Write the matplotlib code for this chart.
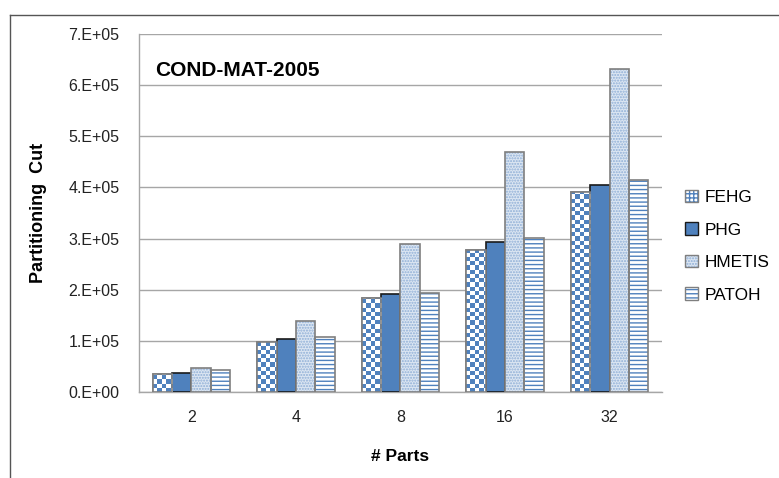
import numpy as np
import matplotlib
matplotlib.use("Agg")
import matplotlib.pyplot as plt
from matplotlib.colors import ListedColormap
from matplotlib.patches import Patch
from matplotlib.lines import Line2D

plt.rcParams['font.family'] = ['Liberation Sans', 'DejaVu Sans']
plt.rcParams['hatch.linewidth'] = 1.0

# data
parts = ['2', '4', '8', '16', '32']
fehg = [35000, 97000, 184500, 278000, 392000]
phg = [37000, 103000, 192000, 294000, 404000]
hmetis = [47000, 139000, 290000, 470000, 631500]
patoh = [43000, 107000, 194000, 301000, 415000]
yticks = [0, 1e5, 2e5, 3e5, 4e5, 5e5, 6e5, 7e5]

blue = '#4F81BD'
gray_edge = '#7f7f7f'

fig = plt.figure(figsize=(7.79, 4.78), dpi=100)
ax = fig.add_axes([0.1784, 0.1799, 0.6714, 0.749])

x = np.arange(len(parts))
w = 0.185
offs = [-1.5 * w, -0.5 * w, 0.5 * w, 1.5 * w]

# FEHG: checkerboard texture clipped to each bar
b_fehg = ax.bar(x + offs[0], fehg, w, color='white', edgecolor=gray_edge, linewidth=1.2, zorder=3)
cmap = ListedColormap(['white', blue])
for bar in b_fehg:
    x0, bw, bh = bar.get_x(), bar.get_width(), bar.get_height()
    cw, ch = bw / 4.5, 8200
    ncol, nrow = int(np.ceil(bw / cw)), int(np.ceil(bh / ch))
    arr = np.add.outer(np.arange(nrow), np.arange(ncol)) % 2
    im = ax.imshow(arr, cmap=cmap, origin='lower', interpolation='nearest', aspect='auto',
                   extent=(x0, x0 + ncol * cw, 0, nrow * ch), zorder=3.1)
    im.set_clip_path(bar)
ax.bar(x + offs[0], fehg, w, color='none', edgecolor=gray_edge, linewidth=1.2, zorder=3.2)

# PHG: solid
ax.bar(x + offs[1], phg, w, color=blue, edgecolor='#1a1a1a', linewidth=1.2, zorder=3)

# HMETIS: dotted light fill
ax.bar(x + offs[2], hmetis, w, color='#dce6f2', edgecolor='#8eaed6', hatch='......', linewidth=0, zorder=3)
ax.bar(x + offs[2], hmetis, w, color='none', edgecolor=gray_edge, linewidth=1.2, zorder=3.2)

# PATOH: horizontal lines
ax.bar(x + offs[3], patoh, w, color='white', edgecolor=blue, hatch='----', linewidth=0, zorder=3)
ax.bar(x + offs[3], patoh, w, color='none', edgecolor=gray_edge, linewidth=1.2, zorder=3.2)

ax.set_xlim(-0.5, 4.5)
ax.set_ylim(0, 7e5)
ax.set_yticks(yticks)
ax.set_yticklabels(['0.E+00'] + ['%d.E+05' % (v / 1e5) for v in yticks[1:]])
ax.set_xticks(x)
ax.set_xticklabels(parts)
ax.tick_params(axis='both', length=0, labelsize=11.5, colors='#222222')
ax.tick_params(axis='y', pad=14)
ax.tick_params(axis='x', pad=13)

ax.grid(axis='y', color='#a6a6a6', linewidth=1.0, zorder=0)
ax.set_axisbelow(True)
for s in ['top', 'right']:
    ax.spines[s].set_visible(False)
for s in ['left', 'bottom']:
    ax.spines[s].set_color('#a6a6a6')
    ax.spines[s].set_linewidth(1.0)

ax.set_ylabel('Partitioning  Cut', fontsize=13, fontweight='bold')
ax.yaxis.set_label_coords(-0.176, 0.5)
ax.set_xlabel('# Parts', fontsize=12.5, fontweight='bold')
ax.xaxis.set_label_coords(0.5, -0.159)

ax.text(0.031, 0.899, 'COND-MAT-2005', transform=ax.transAxes, fontsize=15,
        fontweight='bold', va='center', ha='left')

# legend
outline = dict(facecolor='none', edgecolor=gray_edge, linewidth=1.0)
handles = [
    (Patch(facecolor='white', edgecolor=blue, hatch='++++', linewidth=0), Patch(**outline)),
    Patch(facecolor=blue, edgecolor='#1a1a1a', linewidth=1.0),
    (Patch(facecolor='#dce6f2', edgecolor='#8eaed6', hatch='......', linewidth=0), Patch(**outline)),
    (Patch(facecolor='white', edgecolor=blue, hatch='----', linewidth=0), Patch(**outline)),
]
ax.legend(handles, ['FEHG', 'PHG', 'HMETIS', 'PATOH'], loc='center left',
          bbox_to_anchor=(0.868, 0.485), bbox_transform=fig.transFigure,
          frameon=False, fontsize=12.4, handlelength=0.75, handleheight=0.75,
          handletextpad=0.4, labelspacing=1.0, borderpad=0)

# outer border (top and left edges)
fig.add_artist(Line2D([0.0128, 1.0], [0.9686, 0.9686], transform=fig.transFigure, color='#555555', lw=1.0))
fig.add_artist(Line2D([0.0128, 0.0128], [0.0, 0.9686], transform=fig.transFigure, color='#555555', lw=1.0))

fig.savefig('out.png', dpi=100)
